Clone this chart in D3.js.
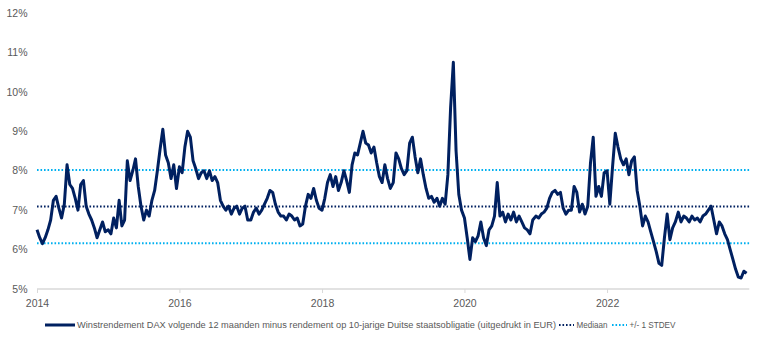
<!DOCTYPE html>
<html>
<head>
<meta charset="utf-8">
<script src="https://cdn.jsdelivr.net/npm/d3@7"></script>
<style>
  html, body { margin: 0; padding: 0; background: #fff; }
  svg { display: block; }
  text { font-family: "Liberation Sans", Arial, sans-serif; }
</style>
</head>
<body>
<svg id="chart" width="760" height="342"></svg>
<script>
// Earnings yield DAX (next 12 months) minus 10y Bund yield, in %, two-weekly readings per year
const v2014 = [6.5, 6.3, 6.15, 6.3, 6.5, 6.75, 7.25, 7.35, 7.05, 6.8, 7.15, 8.15, 7.65, 7.55, 7.3, 7.0, 7.65, 7.75, 7.1, 6.9, 6.75, 6.55, 6.3, 6.5, 6.7, 6.45];
const v2015 = [6.5, 6.4, 6.8, 6.55, 7.25, 6.6, 6.75, 8.25, 7.75, 8.0, 8.3, 7.6, 7.1, 6.75, 7.0, 6.85, 7.25, 7.5, 8.0, 8.55, 9.05, 8.4, 8.2, 7.8, 8.15, 7.55];
const v2016 = [8.1, 7.95, 8.6, 9.0, 8.85, 8.25, 8.05, 7.8, 7.95, 8.0, 7.8, 8.0, 7.75, 7.85, 7.7, 7.25, 7.1, 7.0, 7.1, 6.9, 7.05, 7.1, 6.9, 7.05, 7.1, 6.75];
const v2017 = [6.75, 6.95, 7.05, 6.9, 7.0, 7.15, 7.3, 7.5, 7.45, 7.15, 6.95, 6.85, 6.85, 6.75, 6.9, 6.85, 6.75, 6.8, 6.6, 6.65, 7.1, 7.4, 7.3, 7.55, 7.25, 7.05];
const v2018 = [7.0, 7.3, 7.7, 7.9, 7.6, 7.85, 7.5, 7.7, 8.0, 7.75, 7.45, 8.15, 8.45, 8.4, 8.7, 9.0, 8.7, 8.65, 8.45, 8.6, 8.2, 7.85, 7.7, 8.15, 7.8, 7.55];
const v2019 = [7.7, 8.45, 8.3, 8.05, 7.9, 8.0, 8.7, 8.85, 8.35, 7.95, 8.3, 7.9, 7.55, 7.3, 7.35, 7.2, 7.3, 7.1, 7.3, 7.15, 7.9, 9.6, 10.75, 8.5, 7.4, 7.0];
const v2020 = [6.8, 6.3, 5.75, 6.3, 6.2, 6.35, 6.7, 6.3, 6.1, 6.5, 6.6, 6.85, 7.7, 6.85, 6.95, 6.7, 6.9, 6.75, 6.95, 6.7, 6.85, 6.7, 6.55, 6.5, 6.4, 6.75];
const v2021 = [6.85, 6.8, 6.9, 6.95, 7.05, 7.3, 7.45, 7.5, 7.4, 7.45, 7.05, 6.9, 7.0, 7.0, 7.6, 7.45, 6.95, 7.15, 6.9, 7.1, 8.2, 8.85, 7.35, 7.6, 7.35, 7.95];
const v2022 = [8.0, 7.15, 8.1, 8.95, 8.6, 8.3, 8.15, 8.3, 7.9, 8.25, 8.35, 7.5, 7.1, 6.6, 6.85, 6.7, 6.45, 6.2, 5.95, 5.65, 5.6, 6.3, 6.9, 6.25, 6.55, 6.7];
const v2023 = [6.95, 6.7, 6.85, 6.8, 6.7, 6.85, 6.75, 6.8, 6.7, 6.85, 6.9, 7.0, 7.1, 6.75, 6.4, 6.7, 6.6, 6.4, 6.25, 6.0, 5.75, 5.5, 5.3, 5.28, 5.45, 5.4];

const years = [2014, 2015, 2016, 2017, 2018, 2019, 2020, 2021, 2022, 2023];
const yearValues = [v2014, v2015, v2016, v2017, v2018, v2019, v2020, v2021, v2022, v2023];

const mediaan = 7.09;
const stdev = 0.93;

const yTicks = [5, 6, 7, 8, 9, 10, 11, 12];
const xTickYears = [2014, 2016, 2018, 2020, 2022];

const legendLabels = [
  "Winstrendement DAX volgende 12 maanden minus rendement op 10-jarige Duitse staatsobligatie (uitgedrukt in EUR)",
  "Mediaan",
  "+/- 1 STDEV"
];

// series rows: one reading every 14 days within each year
const series = [];
years.forEach((yr, k) => {
  yearValues[k].forEach((v, i) => series.push({ date: new Date(yr, 0, 1 + i * 14), value: v }));
});

const svg = d3.select("#chart");
const plot = { left: 37, right: 749.5, top: 13, bottom: 289 };

const x = d3.scaleTime()
  .domain([new Date(2014, 0, 1), new Date(2024, 0, 1)])
  .range([plot.left, plot.right]);
const y = d3.scaleLinear().domain([5, 12]).range([plot.bottom, plot.top]);

const navy = "#002060";
const cyan = "#00B0F0";
const grey = "#595959";

// y labels
svg.append("g")
  .selectAll("text")
  .data(yTicks)
  .join("text")
  .attr("x", 27.5)
  .attr("y", d => y(d))
  .attr("dy", "0.35em")
  .attr("text-anchor", "end")
  .attr("font-size", "10.5px")
  .attr("fill", grey)
  .text(d => d + "%");

// x axis
const xAxis = d3.axisBottom(x)
  .tickValues(xTickYears.map(yr => new Date(yr, 0, 1)))
  .tickFormat(d3.timeFormat("%Y"))
  .tickSize(4)
  .tickSizeOuter(0);

const xEnd = x(new Date(2023, 11, 31));
const gx = svg.append("g")
  .attr("transform", `translate(0,${plot.bottom})`)
  .call(xAxis);
gx.select(".domain").attr("stroke", "#d9d9d9").attr("stroke-width", 1.5)
  .attr("d", `M${plot.left},0H${xEnd}`);
gx.selectAll(".tick line").attr("stroke", "#d9d9d9").attr("stroke-width", 1);
gx.selectAll(".tick text")
  .attr("font-family", "'Liberation Sans', Arial, sans-serif")
  .attr("font-size", "10.5px")
  .attr("fill", grey)
  .attr("dy", "0")
  .attr("y", 18);

// median and +/- one standard deviation
const refLines = [
  { v: mediaan + stdev, c: cyan },
  { v: mediaan, c: navy },
  { v: mediaan - stdev, c: cyan }
];
svg.append("g")
  .selectAll("line")
  .data(refLines)
  .join("line")
  .attr("x1", plot.left)
  .attr("x2", xEnd)
  .attr("y1", d => y(d.v))
  .attr("y2", d => y(d.v))
  .attr("stroke", d => d.c)
  .attr("stroke-width", 2)
  .attr("stroke-dasharray", "1.6,1.9");

// main series
const line = d3.line()
  .x(d => x(d.date))
  .y(d => y(d.value));

svg.append("path")
  .datum(series)
  .attr("fill", "none")
  .attr("stroke", navy)
  .attr("stroke-width", 3)
  .attr("stroke-linejoin", "round")
  .attr("d", line);

// legend
const legendY = 325;
const legendItems = [
  { x0: 45, x1: 75, tx: 77, tw: 479, c: navy, dash: null, w: 3 },
  { x0: 559, x1: 574, tx: 576.5, tw: 31, c: navy, dash: "1.6,1.9", w: 2 },
  { x0: 612, x1: 627, tx: 629.5, tw: 46, c: cyan, dash: "1.6,1.9", w: 2 }
];
const lg = svg.append("g");
legendItems.forEach((it, i) => {
  lg.append("line")
    .attr("x1", it.x0).attr("x2", it.x1)
    .attr("y1", legendY).attr("y2", legendY)
    .attr("stroke", it.c)
    .attr("stroke-width", it.w)
    .attr("stroke-dasharray", it.dash);
  lg.append("text")
    .attr("x", it.tx)
    .attr("y", legendY)
    .attr("dy", "0.35em")
    .attr("font-size", "9.2px")
    .attr("font-family", "'Liberation Sans Narrow', 'Arial Narrow', 'Liberation Sans', sans-serif")
    .attr("fill", grey)
    .attr("textLength", it.tw)
    .attr("lengthAdjust", "spacingAndGlyphs")
    .text(legendLabels[i]);
});
</script>
</body>
</html>
